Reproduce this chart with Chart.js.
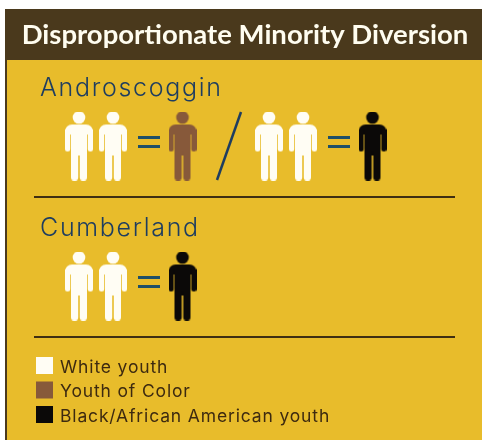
<!DOCTYPE html>
<html>
<head>
<meta charset="utf-8">
<title>Disproportionate Minority Diversion</title>
<script src="https://cdn.jsdelivr.net/npm/chart.js@4/dist/chart.umd.js"></script>
<style>
  html, body { margin: 0; padding: 0; background: #fff; }
  canvas { display: block; filter: blur(0.4px); }
</style>
</head>
<body>
<canvas id="chart" width="482" height="440"></canvas>
<script>
// one entry per "n white youth = 1 minority youth" comparison
const counties = ['Androscoggin', 'Cumberland'];
const comparisonCounty = ['Androscoggin', 'Androscoggin', 'Cumberland'];
const comparisonGroup = ['Youth of Color', 'Black/African American youth', 'Black/African American youth'];
const whiteCounts = [2, 2, 2];
const minorityCounts = [1, 1, 1];
const groups = ['White youth', 'Youth of Color', 'Black/African American youth'];

const titleText = 'Disproportionate Minority Diversion';
const colors = { 'White youth': '#fffdf4', 'Youth of Color': '#87593a', 'Black/African American youth': '#0b0908' };
const GOLD = '#e8bc2b', HEADER = '#4a391c', NAVY = '#1e3d60', RULE = '#3f2e12', INK = '#3d2a10';

// horizontal layout of one comparison, in px
const GROUP_X = [79, 269];
const WHITE_STEP = 34;
const MINORITY_OFFSET = 103.5;

function personIcon(color) {
  const c = document.createElement('canvas');
  c.width = 28;
  c.height = 69;
  const g = c.getContext('2d');
  g.fillStyle = color;
  g.beginPath();
  g.arc(14, 6, 6.3, 0, Math.PI * 2);
  g.fill();
  // shoulders + torso
  g.beginPath();
  g.roundRect(0, 13, 28, 10, [7, 7, 0, 0]);
  g.fill();
  g.fillRect(6, 20, 16, 24);
  // arms
  g.beginPath();
  g.roundRect(0, 18, 5.2, 22, [0, 0, 2.5, 2.5]);
  g.roundRect(22.8, 18, 5.2, 22, [0, 0, 2.5, 2.5]);
  g.fill();
  // legs
  g.beginPath();
  g.roundRect(6, 40, 7.2, 29, [0, 0, 3, 3]);
  g.roundRect(14.8, 40, 7.2, 29, [0, 0, 3, 3]);
  g.fill();
  return c;
}

function comparisonSlot(i) {
  return comparisonCounty.slice(0, i).filter(c => c === comparisonCounty[i]).length;
}

function buildPoints(group) {
  const points = [];
  comparisonCounty.forEach((county, i) => {
    const start = GROUP_X[comparisonSlot(i)];
    if (group === 'White youth') {
      for (let n = 0; n < whiteCounts[i]; n++) points.push({ x: start + n * WHITE_STEP, y: county });
    } else if (group === comparisonGroup[i]) {
      for (let n = 0; n < minorityCounts[i]; n++) points.push({ x: start + MINORITY_OFFSET + n * WHITE_STEP, y: county });
    }
  });
  return points;
}

const infographic = {
  id: 'infographic',
  beforeDraw(chart) {
    const { ctx, width, height } = chart;
    ctx.save();
    ctx.fillStyle = '#fff';
    ctx.fillRect(0, 0, width, height);
    ctx.fillStyle = HEADER;
    ctx.fillRect(5, 9, width - 5, 51);
    ctx.fillRect(5, 60, 2, height - 60);
    ctx.fillStyle = GOLD;
    ctx.fillRect(7, 60, width - 7, height - 60);
    ctx.restore();
  },
  afterDatasetsDraw(chart) {
    const { ctx, scales: { x, y } } = chart;
    ctx.save();

    // county names
    ctx.fillStyle = NAVY;
    ctx.font = '300 25px Inter';
    ctx.letterSpacing = '1.7px';
    ctx.textBaseline = 'alphabetic';
    counties.forEach(name => ctx.fillText(name, x.getPixelForValue(40), y.getPixelForValue(name) - 50));
    ctx.letterSpacing = '0px';

    // equals signs
    ctx.fillStyle = '#1f5068';
    comparisonCounty.forEach((county, i) => {
      const left = x.getPixelForValue(GROUP_X[comparisonSlot(i)] + 59);
      const mid = y.getPixelForValue(county);
      ctx.fillRect(left, mid - 10, 22, 3);
      ctx.fillRect(left, mid - 1, 22, 3);
    });

    // slash between the two Androscoggin comparisons
    const rowA = y.getPixelForValue('Androscoggin');
    ctx.strokeStyle = NAVY;
    ctx.lineWidth = 2.5;
    ctx.beginPath();
    ctx.moveTo(x.getPixelForValue(241), rowA - 34);
    ctx.lineTo(x.getPixelForValue(217), rowA + 34);
    ctx.stroke();

    // rules under each county
    ctx.strokeStyle = RULE;
    ctx.lineWidth = 2;
    counties.forEach(name => {
      const ry = y.getPixelForValue(name) + 51;
      ctx.beginPath();
      ctx.moveTo(x.getPixelForValue(34), ry);
      ctx.lineTo(x.getPixelForValue(455), ry);
      ctx.stroke();
    });

    // key
    ctx.font = '17.5px Inter';
    ctx.letterSpacing = '0.85px';
    groups.forEach((g, i) => {
      const top = 357 + i * 24.5;
      ctx.fillStyle = colors[g];
      ctx.fillRect(36, top, 17, 17);
      ctx.fillStyle = INK;
      ctx.fillText(g, 60, top + 15.5);
    });
    ctx.restore();
  }
};

new Chart(document.getElementById('chart'), {
  type: 'scatter',
  data: {
    datasets: groups.map(g => ({
      label: g,
      data: buildPoints(g),
      pointStyle: personIcon(colors[g]),
      pointRadius: 14,
      clip: false
    }))
  },
  options: {
    responsive: false,
    animation: false,
    layout: { autoPadding: false, padding: { left: 8, right: 0, top: 0, bottom: 154 } },
    scales: {
      x: { type: 'linear', min: 8, max: 482, display: false },
      y: { type: 'category', labels: counties, display: false }
    },
    plugins: {
      legend: { display: false },
      tooltip: { enabled: false },
      title: {
        display: true,
        text: titleText,
        color: '#fffdf0',
        font: { family: 'Lato', size: 27.5, weight: 'bold', lineHeight: 1.2 },
        padding: { top: 19, bottom: 94 }
      }
    }
  },
  plugins: [infographic]
});
</script>
</body>
</html>
